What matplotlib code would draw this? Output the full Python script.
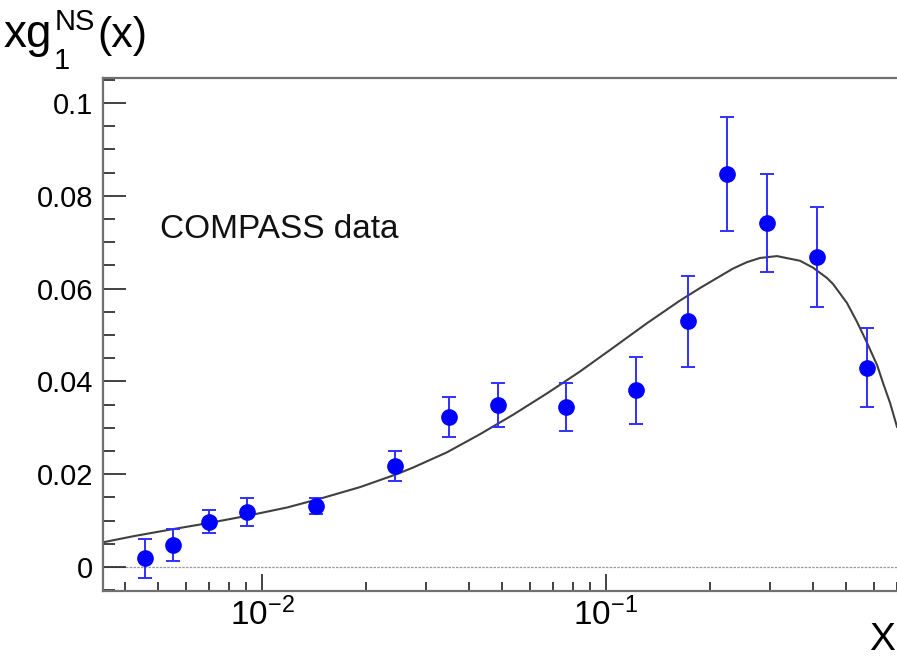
import matplotlib
matplotlib.use("Agg")
import matplotlib.pyplot as plt
from matplotlib.ticker import LogLocator, FixedLocator, FixedFormatter, MultipleLocator, NullFormatter

plt.rcParams['font.family'] = ['Liberation Sans', 'DejaVu Sans']
plt.rcParams['mathtext.fontset'] = 'custom'
plt.rcParams['mathtext.rm'] = 'Liberation Sans'
plt.rcParams['mathtext.default'] = 'regular'

# COMPASS points for x*g1^NS(x)
x_data = [0.00457, 0.00551, 0.00702, 0.00905, 0.01436, 0.0244, 0.0350, 0.0485,
          0.0766, 0.1222, 0.1729, 0.2248, 0.294, 0.410, 0.573]
y_data = [0.0019, 0.0047, 0.0097, 0.0119, 0.0131, 0.0218, 0.0323, 0.0349,
          0.0345, 0.0381, 0.0530, 0.0847, 0.0741, 0.0668, 0.0429]
y_err = [0.0042, 0.0035, 0.0025, 0.0030, 0.0018, 0.0032, 0.0044, 0.0047,
         0.0052, 0.0072, 0.0098, 0.0123, 0.0106, 0.0108, 0.0085]

# fitted curve
curve_x = [0.00345, 0.00422, 0.00547, 0.00706, 0.00904, 0.01182, 0.01475, 0.01928,
           0.02467, 0.02746, 0.03449, 0.04302, 0.05370, 0.06738, 0.08395, 0.1047,
           0.1314, 0.1640, 0.1875, 0.2339, 0.257, 0.2805, 0.3141, 0.3663,
           0.400, 0.4387, 0.457, 0.5018, 0.537, 0.5740, 0.614, 0.6385,
           0.670, 0.7015]
curve_y = [0.0053, 0.0066, 0.0081, 0.0095, 0.0110, 0.0128, 0.0147, 0.0172,
           0.0200, 0.0214, 0.0247, 0.0286, 0.0328, 0.0374, 0.0421, 0.0472,
           0.0525, 0.0574, 0.0601, 0.0643, 0.0657, 0.0666, 0.0670, 0.0660,
           0.0645, 0.0623, 0.0610, 0.0569, 0.0528, 0.0483, 0.0435, 0.0397,
           0.0353, 0.0302]

y_ticks = [0, 0.02, 0.04, 0.06, 0.08, 0.1]
y_ticklabels = ['0', '0.02', '0.04', '0.06', '0.08', '0.1']

fig = plt.figure(figsize=(8.97, 6.58), dpi=100)
ax = fig.add_axes([0.1148, 0.1018, 0.8852, 0.7797])

ax.set_xscale('log')
ax.set_xlim(0.00345, 0.7015)
ax.set_ylim(-0.0052, 0.1054)

ax.axhline(0, color='#9a9a9a', lw=0.9, ls=(0, (2, 1)), zorder=1)
ax.plot(curve_x, curve_y, color='#404040', lw=1.5, zorder=2)
ax.errorbar(x_data, y_data, yerr=y_err, fmt='o', color='#0000ff', ecolor='#3030ff',
            markersize=11, elinewidth=1.4, capsize=5, capthick=1.4, zorder=3)

ax.text(0.0718, 0.688, 'COMPASS data', transform=ax.transAxes, fontsize=24,
        color='#111111', va='baseline', ha='left')

# axis frame
for side in ['left', 'bottom', 'top']:
    ax.spines[side].set_color('#707070')
    ax.spines[side].set_linewidth(1.6)
ax.spines['right'].set_visible(False)

ax.yaxis.set_major_locator(FixedLocator(y_ticks))
ax.yaxis.set_major_formatter(FixedFormatter(y_ticklabels))
ax.yaxis.set_minor_locator(MultipleLocator(0.005))
ax.xaxis.set_major_locator(LogLocator(base=10))
ax.xaxis.set_minor_locator(LogLocator(base=10, subs=[2, 3, 4, 5, 6, 7, 8, 9]))
ax.xaxis.set_minor_formatter(NullFormatter())

ax.tick_params(axis='y', which='major', direction='in', length=16.5, width=1.2,
               color='#222222', labelsize=21, pad=7, right=False)
ax.tick_params(axis='y', which='minor', direction='in', length=8.5, width=1.2,
               color='#222222', right=False)
ax.tick_params(axis='x', which='major', direction='in', length=12, width=1.2,
               color='#222222', labelsize=24, pad=5, top=False)
ax.tick_params(axis='x', which='minor', direction='in', length=6.5, width=1.2,
               color='#222222', top=False)

# axis titles, built from pieces
fig.text(3 / 897, 1 - 47 / 658, 'xg', fontsize=33, va='baseline', ha='left')
fig.text(54 / 897, 1 - 69 / 658, '1', fontsize=21, va='baseline', ha='left')
fig.text(55 / 897, 1 - 30 / 658, 'NS', fontsize=21, va='baseline', ha='left')
fig.text(97 / 897, 1 - 47 / 658, '(x)', fontsize=31, va='baseline', ha='left')
fig.text(0.998, 1 - 650 / 658, 'X', fontsize=28, va='baseline', ha='right')

fig.savefig('out.png', dpi=100)
